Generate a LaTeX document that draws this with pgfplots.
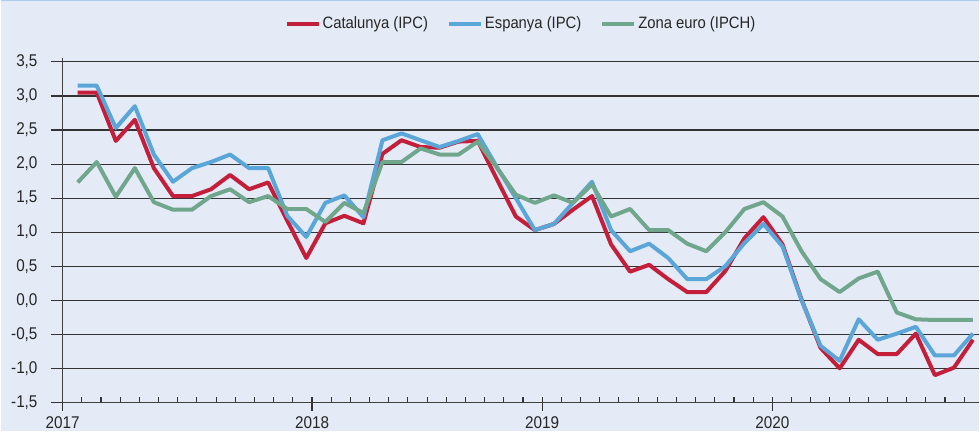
\documentclass[border=0pt]{standalone}
\usepackage{fontspec}
\setmainfont{Liberation Sans}[FakeStretch=0.9]
\usepackage{pgfplots}
\pgfplotsset{compat=1.18}
\definecolor{bgc}{HTML}{E4EBF6}
\definecolor{cred}{HTML}{C41E3A}
\definecolor{cblue}{HTML}{5AA6D9}
\definecolor{cgreen}{HTML}{6FA68C}
\definecolor{topline}{HTML}{A9CDEE}

\pgfplotstableread{
m red blue green
0 3.05 3.15 1.73
1 3.05 3.15 2.03
2 2.34 2.53 1.52
3 2.65 2.85 1.94
4 1.94 2.14 1.44
5 1.53 1.74 1.33
6 1.53 1.94 1.33
7 1.63 2.03 1.53
8 1.84 2.14 1.63
9 1.63 1.94 1.44
10 1.73 1.94 1.53
11 1.17 1.24 1.34
12 0.62 0.93 1.34
13 1.13 1.43 1.15
14 1.24 1.54 1.43
15 1.13 1.22 1.28
16 2.15 2.35 2.03
17 2.35 2.45 2.03
18 2.25 2.35 2.23
19 2.24 2.25 2.14
20 2.33 2.34 2.14
21 2.34 2.44 2.33
22 1.78 1.96 1.95
23 1.23 1.50 1.55
24 1.03 1.03 1.43
25 1.12 1.12 1.54
26 1.33 1.43 1.43
27 1.53 1.74 1.70
28 0.82 1.03 1.23
29 0.42 0.72 1.34
30 0.52 0.83 1.03
31 0.31 0.62 1.03
32 0.12 0.31 0.83
33 0.12 0.31 0.72
34 0.43 0.50 1.00
35 0.91 0.84 1.34
36 1.22 1.12 1.44
37 0.82 0.79 1.23
38 0.01 0.00 0.72
39 -0.70 -0.67 0.31
40 -1.00 -0.89 0.12
41 -0.58 -0.28 0.32
42 -0.79 -0.58 0.42
43 -0.79 -0.49 -0.18
44 -0.49 -0.39 -0.28
45 -1.10 -0.81 -0.29
46 -0.99 -0.81 -0.29
47 -0.58 -0.49 -0.29
}\datatable

\begin{document}
\begin{tikzpicture}
\fill[bgc] (-62pt,-29pt) rectangle (918pt,403pt);
\draw[topline, line width=1.5pt] (-62pt,402.25pt) -- (918pt,402.25pt);
\useasboundingbox (-62pt,-29pt) rectangle (918pt,403pt);
\begin{axis}[
  scale only axis, width=918pt, height=341pt,
  xmin=-0.79, xmax=47.33, ymin=-1.5, ymax=3.5,
  axis lines*=left,
  axis line style={black!75, line width=1.2pt, -},
  y axis line style={shorten >=-4pt},
  ytick={-1.5,-1,...,3.5},
  ymajorgrids,
  grid style={black!80, line width=1.1pt},
  major tick length=12pt,
  minor tick length=5pt,
  ytick align=outside,
  ytick style={black!80, line width=1.1pt},
  xtick={-0.79,12.301,24.385,36.469},
  xticklabels={2017,2018,2019,2020},
  minor xtick={-0.79,0.217,...,46.6},
  xtick align=center,
  xtick style={black!80, line width=1.1pt, yshift=-2.5pt},
  minor tick style={yshift=5pt},
  /pgf/number format/.cd, use comma, fixed, fixed zerofill, precision=1, assume math mode=true,
  /pgfplots/.cd,
  tick label style={font=\fontsize{17}{20}\selectfont, text=black!85},
  yticklabel style={inner xsep=13pt},
  xticklabel style={inner ysep=2pt, yshift=-6.5pt},
  legend style={at={(0.5,1.1120)}, anchor=center, draw=none, fill=none,
    font=\fontsize{16.5}{19}\selectfont, text=black!85,
    /tikz/every even column/.append style={column sep=17pt}},
  legend columns=3,
  legend image code/.code={\draw[#1, line width=4pt] (0pt,0pt) -- (32pt,0pt);},
  every axis plot/.append style={line width=4pt, line join=round},
]
\addplot[cred, mark=none] table[x=m, y=red] {\datatable};
\addlegendentry{Catalunya (IPC)}
\addplot[cblue, mark=none] table[x=m, y=blue] {\datatable};
\addlegendentry{Espanya (IPC)}
\addplot[cgreen, mark=none] table[x=m, y=green] {\datatable};
\addlegendentry{Zona euro (IPCH)}
\end{axis}
\end{tikzpicture}
\end{document}
